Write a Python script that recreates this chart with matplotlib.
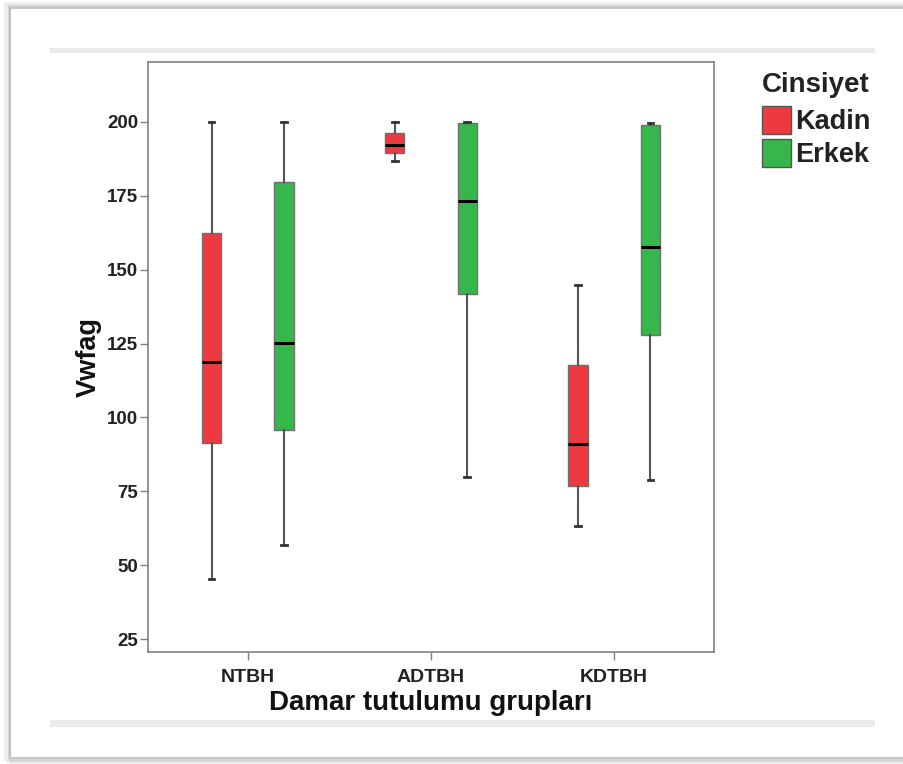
import matplotlib
matplotlib.use("Agg")
import matplotlib.pyplot as plt
from matplotlib.patches import Rectangle

plt.rcParams["font.family"] = ["Liberation Sans", "DejaVu Sans"]

# Box summaries per group (Kadin / Erkek)
groups = ["NTBH", "ADTBH", "KDTBH"]
sexes = ["Kadin", "Erkek"]
colors = {"Kadin": "#EE3A3F", "Erkek": "#35B74B"}

kadin_min = [45.3, 186.8, 63.2]
kadin_q1 = [91.4, 189.4, 76.8]
kadin_med = [118.6, 192.2, 91.0]
kadin_q3 = [162.4, 196.4, 117.7]
kadin_max = [200.0, 200.0, 144.8]

erkek_min = [56.8, 79.8, 78.8]
erkek_q1 = [95.7, 141.8, 127.9]
erkek_med = [125.3, 173.4, 157.7]
erkek_q3 = [179.7, 199.8, 199.0]
erkek_max = [200.0, 200.0, 199.7]

yticks = [25, 50, 75, 100, 125, 150, 175, 200]

W, H = 904, 764
fig = plt.figure(figsize=(W / 100, H / 100), dpi=100, facecolor="white")


def px(x, y):
    return x / W, 1 - y / H


# outer page frame with a soft shadow
for off, col, lw in [(3, "#ececec", 4), (1.5, "#d4d4d4", 2), (0, "#bdbdbd", 1.2)]:
    x0, y1 = px(10 - off, 8 - off)
    x1, y0 = px(920, 758 + off)
    fig.patches.append(Rectangle((x0, y0), x1 - x0, y1 - y0, transform=fig.transFigure,
                                 fill=False, edgecolor=col, linewidth=lw, zorder=0))

# light grey rules above and below the chart
for ytop, ybot in [(48, 53), (720, 727)]:
    x0, y1 = px(50, ytop)
    x1, y0 = px(875, ybot)
    fig.patches.append(Rectangle((x0, y0), x1 - x0, y1 - y0, transform=fig.transFigure,
                                 facecolor="#ebebeb", edgecolor="none", zorder=0))

ax = fig.add_axes([148 / W, 1 - 652 / H, 566 / W, 590 / H])

offset = 0.197
series = [
    ("Kadin", -offset, kadin_min, kadin_q1, kadin_med, kadin_q3, kadin_max),
    ("Erkek", offset, erkek_min, erkek_q1, erkek_med, erkek_q3, erkek_max),
]
for name, dx, lo, q1, med, q3, hi in series:
    stats = []
    for i in range(len(groups)):
        stats.append({"whislo": lo[i], "q1": q1[i], "med": med[i],
                      "q3": q3[i], "whishi": hi[i], "fliers": []})
    pos = [i + dx for i in range(len(groups))]
    ax.bxp(stats, positions=pos, widths=0.104, capwidths=0.028, patch_artist=True,
           showfliers=False, manage_ticks=False,
           boxprops=dict(facecolor=colors[name], edgecolor="#707070", linewidth=1.0),
           medianprops=dict(color="black", linewidth=2.2),
           whiskerprops=dict(color="#555555", linewidth=1.5),
           capprops=dict(color="#333333", linewidth=2.0))

ax.set_xlim(-0.546, 2.546)
ax.set_ylim(20.6, 220.3)
ax.set_xticks(range(len(groups)))
ax.set_xticklabels(groups, fontsize=14, fontweight="bold", color="#222222")
ax.set_yticks(yticks)
ax.set_yticklabels([str(v) for v in yticks], fontsize=13.5, fontweight="bold", color="#222222")
ax.tick_params(axis="both", direction="out", length=6, width=1.0, color="#808080")
ax.tick_params(axis="y", pad=1)
ax.tick_params(axis="x", pad=6)
for s in ax.spines.values():
    s.set_color("#808080")
    s.set_linewidth(1.2)

ax.set_xlabel("Damar tutulumu grupları", fontsize=20, fontweight="bold",
              color="#111111", labelpad=3)
ax.set_ylabel("Vwfag", fontsize=19.5, fontweight="bold", color="#111111", labelpad=4)

# legend block to the right of the plot
fig.text(*px(762, 85), "Cinsiyet", fontsize=20, fontweight="bold",
         color="#222222", ha="left", va="center")
for k, name in enumerate(sexes):
    top = 106 + k * 33
    x0, y1 = px(762, top)
    x1, y0 = px(791, top + 28)
    fig.patches.append(Rectangle((x0, y0), x1 - x0, y1 - y0, transform=fig.transFigure,
                                 facecolor=colors[name], edgecolor="#555555", linewidth=1.0))
    fig.text(*px(795, top + 16), name, fontsize=19.5, fontweight="bold",
             color="#222222", ha="left", va="center")

fig.savefig("out.png", dpi=100, facecolor="white")
